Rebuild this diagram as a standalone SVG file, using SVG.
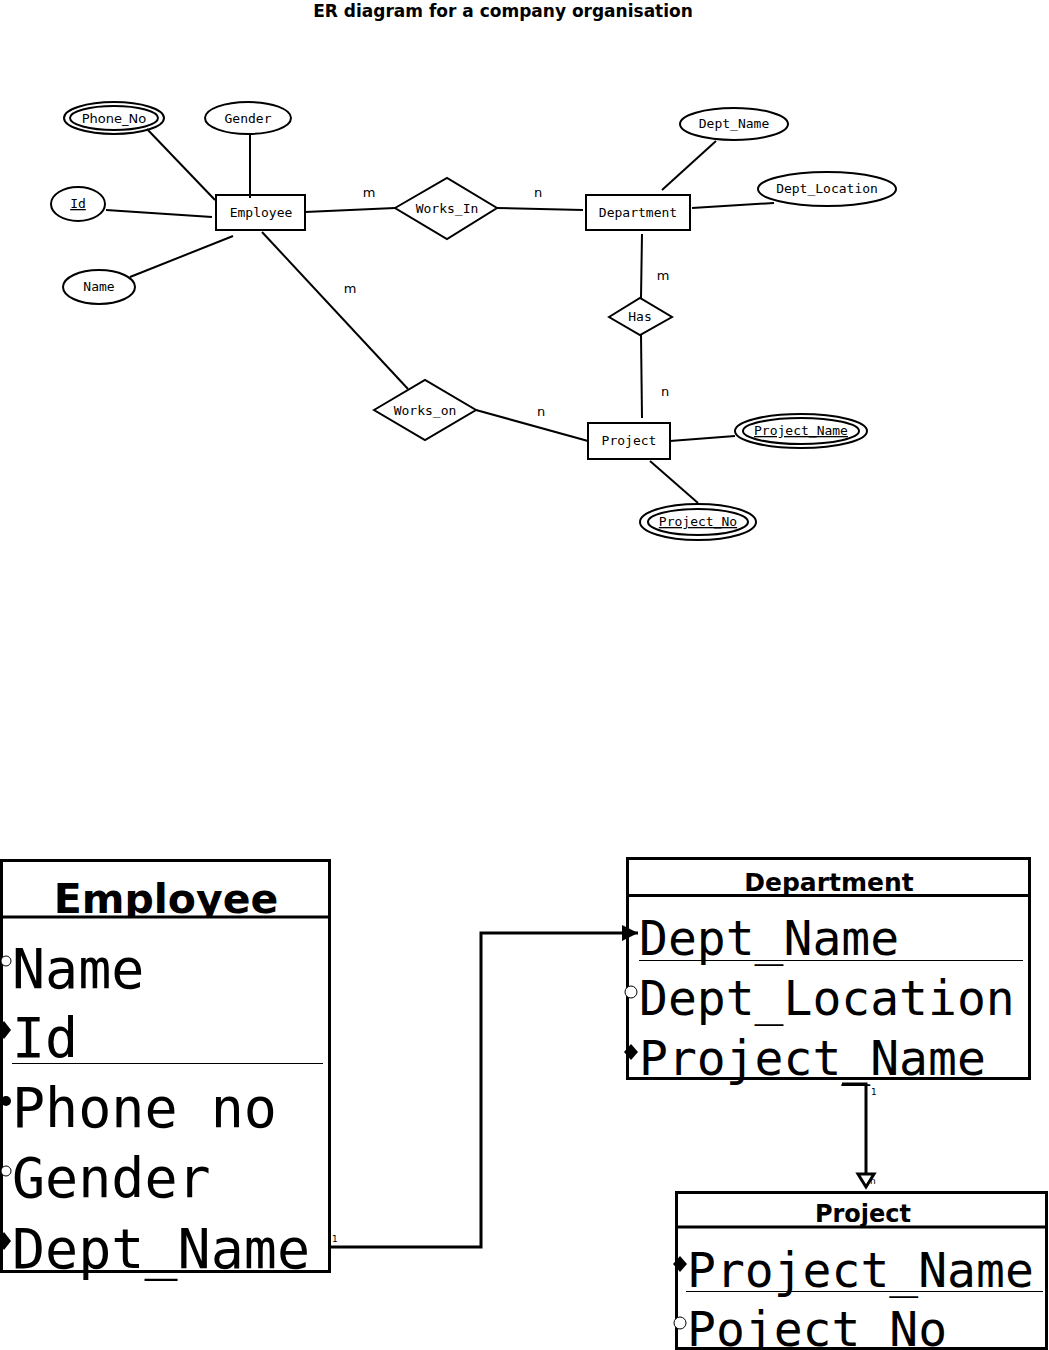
<svg xmlns="http://www.w3.org/2000/svg" width="1049" height="1350" viewBox="0 0 1049 1350">
<style>
.bg{fill:#fff}
.sh{fill:#fff;stroke:#000;stroke-width:2}
.ln{fill:none;stroke:#000;stroke-width:2}
.t{font-family:"DejaVu Sans Mono",monospace;font-size:13px;fill:#000;text-anchor:middle}
.ts{font-family:"DejaVu Sans",sans-serif;font-size:13px;fill:#000;text-anchor:middle}
.card{font-family:"DejaVu Sans",sans-serif;font-size:13px;fill:#000;text-anchor:middle}
.title{font-family:"DejaVu Sans",sans-serif;font-weight:bold;font-size:17px;fill:#000;text-anchor:middle}
.tb{fill:#fff;stroke:#000;stroke-width:3}
.th{font-family:"DejaVu Sans",sans-serif;font-weight:bold;fill:#000;text-anchor:middle}
.row{font-family:"DejaVu Sans Mono",monospace;fill:#000}
.sep{stroke:#000;stroke-width:1}
.cn{fill:none;stroke:#000;stroke-width:3}
.sm{font-family:"DejaVu Sans",sans-serif;font-size:9px;fill:#000}
</style>
<defs>
<marker id="arr" markerWidth="18" markerHeight="18" refX="16" refY="9" orient="auto" markerUnits="userSpaceOnUse">
<path d="M0,1 L16,9 L0,17 Z" fill="#000"/>
</marker>
</defs>
<rect class="bg" x="0" y="0" width="1049" height="1350"/>
<text class="title" x="503" y="17">ER diagram for a company organisation</text>

<g id="employee"><rect class="sh" x="216" y="195" width="89" height="35"/><text class="t" x="261" y="217">Employee</text></g>
<g id="phone_no"><ellipse class="sh" cx="114" cy="118" rx="50" ry="16"/><ellipse class="sh" cx="114" cy="118" rx="44" ry="12"/><text class="ts" x="114" y="123">Phone_No</text></g>
<g id="gender"><ellipse class="sh" cx="248" cy="118" rx="43" ry="16"/><text class="t" x="248" y="123">Gender</text></g>
<g id="id"><ellipse class="sh" cx="78" cy="204" rx="27" ry="17"/><text class="t" x="78" y="208" text-decoration="underline">Id</text></g>
<g id="name"><ellipse class="sh" cx="99" cy="287" rx="36" ry="17"/><text class="t" x="99" y="291">Name</text></g>
<g id="works_in"><polygon class="sh" points="395,208 447,178 497,208 447,239"/><text class="t" x="447" y="213">Works_In</text></g>
<g id="department"><rect class="sh" x="586" y="195" width="104" height="35"/><text class="t" x="638" y="217">Department</text></g>
<g id="dept_name"><ellipse class="sh" cx="734" cy="124" rx="54" ry="16"/><text class="t" x="734" y="128">Dept_Name</text></g>
<g id="dept_location"><ellipse class="sh" cx="827" cy="189" rx="69" ry="17"/><text class="t" x="827" y="193">Dept_Location</text></g>
<g id="has"><polygon class="sh" points="609,317 640,298 672,317 640,335"/><text class="t" x="640" y="321">Has</text></g>
<g id="works_on"><polygon class="sh" points="374,410 425,380 476,410 425,440"/><text class="t" x="425" y="415">Works_on</text></g>
<g id="project"><rect class="sh" x="588" y="423" width="82" height="36"/><text class="t" x="629" y="445">Project</text></g>
<g id="project_name"><ellipse class="sh" cx="801" cy="431" rx="66" ry="17"/><ellipse class="sh" cx="801" cy="431" rx="58" ry="13"/><text class="t" x="801" y="435" text-decoration="underline">Project_Name</text></g>
<g id="project_no"><ellipse class="sh" cx="698" cy="522" rx="58" ry="18"/><ellipse class="sh" cx="698" cy="522" rx="50" ry="13"/><text class="t" x="698" y="526" text-decoration="underline">Project_No</text></g>

<g id="employee_table">
<rect class="tb" x="1.5" y="860.5" width="328" height="411"/>
<text class="th" x="166" y="913" font-size="41">Employee</text>
<rect x="3" y="918" width="325" height="12" fill="#fff"/>
<line class="tb" x1="1.5" y1="917" x2="329.5" y2="917"/>
<text class="row" x="12" y="988" font-size="55">Name</text>
<text class="row" x="12" y="1057" font-size="55">Id</text>
<line class="sep" x1="12" y1="1063.5" x2="323" y2="1063.5"/>
<text class="row" x="12" y="1127" font-size="55">Phone no</text>
<text class="row" x="12" y="1197" font-size="55">Gender</text>
<text class="row" x="12" y="1268" font-size="55">Dept_Name</text>
<circle cx="6" cy="961" r="5" fill="#fff" stroke="#000" stroke-width="1"/>
<polygon points="4,1021 11,1030 4,1039 -3,1030" fill="#000"/>
<circle cx="6" cy="1101" r="5" fill="#000"/>
<circle cx="6" cy="1171" r="5" fill="#fff" stroke="#000" stroke-width="1"/>
<polygon points="4,1232 11,1241 4,1250 -3,1241" fill="#000"/>
</g>

<g id="department_table">
<rect class="tb" x="627.5" y="858.5" width="402" height="220"/>
<text class="th" x="829" y="891" font-size="25">Department</text>
<rect x="629" y="897" width="399" height="6" fill="#fff"/>
<line class="tb" x1="627.5" y1="895.5" x2="1029.5" y2="895.5"/>
<text class="row" x="639" y="955" font-size="48">Dept_Name</text>
<line class="sep" x1="639" y1="960.5" x2="1023" y2="960.5"/>
<text class="row" x="639" y="1015" font-size="48">Dept_Location</text>
<text class="row" x="639" y="1075" font-size="48">Project_Name</text>
<circle cx="631" cy="992" r="6" fill="#fff" stroke="#000" stroke-width="1"/>
<polygon points="631,1044 638,1052 631,1060 624,1052" fill="#000"/>
</g>

<g id="project_table">
<rect class="tb" x="676.5" y="1192.5" width="370" height="156"/>
<text class="th" x="863" y="1222" font-size="24">Project</text>
<rect x="678" y="1229" width="367" height="6" fill="#fff"/>
<line class="tb" x1="676.5" y1="1227" x2="1046.5" y2="1227"/>
<text class="row" x="687" y="1287" font-size="48">Project_Name</text>
<line class="sep" x1="686" y1="1291.5" x2="1043" y2="1291.5"/>
<text class="row" x="687" y="1346" font-size="48">Poject No</text>
<polygon points="680,1256 687,1264 680,1272 673,1264" fill="#000"/>
<circle cx="680" cy="1323" r="6" fill="#fff" stroke="#000" stroke-width="1"/>
</g>

<g id="connectors">
<line class="ln" x1="147" y1="129" x2="215" y2="200"/>
<line class="ln" x1="250" y1="134" x2="250" y2="198"/>
<line class="ln" x1="106" y1="210" x2="212" y2="217"/>
<line class="ln" x1="130" y1="277" x2="233" y2="236"/>
<line class="ln" x1="305" y1="212" x2="395" y2="208"/>
<line class="ln" x1="497" y1="208" x2="583" y2="210"/>
<line class="ln" x1="716" y1="141" x2="662" y2="190"/>
<line class="ln" x1="692" y1="208" x2="774" y2="203"/>
<line class="ln" x1="642" y1="234" x2="641" y2="298"/>
<line class="ln" x1="641" y1="335" x2="642" y2="418"/>
<line class="ln" x1="262" y1="232" x2="408" y2="389"/>
<line class="ln" x1="476" y1="410" x2="588" y2="441"/>
<line class="ln" x1="670" y1="441" x2="735" y2="436"/>
<line class="ln" x1="650" y1="461" x2="698" y2="503"/>
<text class="card" x="369" y="197">m</text>
<text class="card" x="538" y="197">n</text>
<text class="card" x="663" y="280">m</text>
<text class="card" x="665" y="396">n</text>
<text class="card" x="350" y="293">m</text>
<text class="card" x="541" y="416">n</text>
<path class="cn" d="M330,1247 H481 V933 H638" marker-end="url(#arr)"/>
<text class="sm" x="332" y="1242">1</text>
<path class="cn" d="M842,1084 H866 V1178"/>
<path d="M858,1174 L874,1174 L866,1187 Z" fill="#fff" stroke="#000" stroke-width="3"/>
<text class="sm" x="871" y="1095">1</text>
<text class="sm" x="870" y="1184">n</text>
</g>
</svg>
